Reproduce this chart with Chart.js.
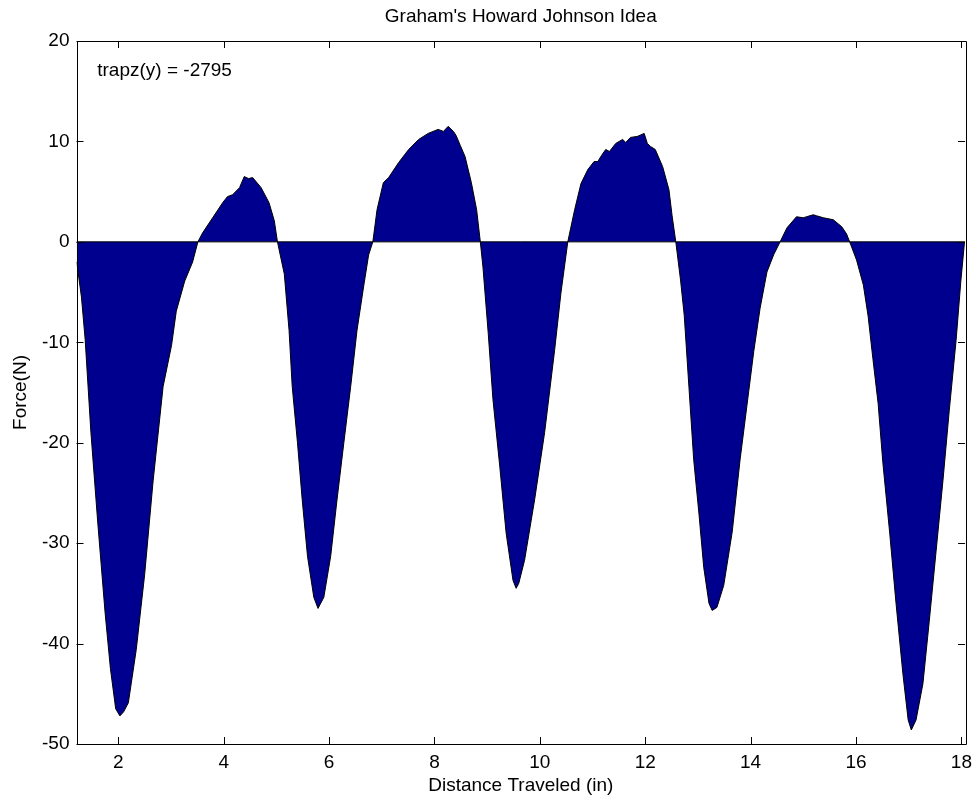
<!DOCTYPE html>
<html>
<head>
<meta charset="utf-8">
<script src="https://cdn.jsdelivr.net/npm/chart.js@4.4.1/dist/chart.umd.min.js"></script>
<style>
  html, body { margin: 0; padding: 0; background: #fff; }
  #wrap { width: 979px; height: 801px; }
</style>
</head>
<body>
<div id="wrap"><canvas id="plot"></canvas></div>
<script>
// distance traveled (in)
const distance = [
  1.21, 1.30, 1.37, 1.48, 1.61, 1.75, 1.85, 1.95, 2.03, 2.10,
  2.19, 2.34, 2.50, 2.66, 2.85, 3.01, 3.10, 3.26, 3.41, 3.51,
  3.60, 3.79, 3.98, 4.07, 4.17, 4.30, 4.39, 4.47, 4.55, 4.71,
  4.86, 4.96, 5.02, 5.15, 5.24, 5.30, 5.40, 5.49, 5.59, 5.71,
  5.79, 5.90, 6.03, 6.15, 6.28, 6.41, 6.53, 6.66, 6.75, 6.83,
  6.91, 7.03, 7.13, 7.32, 7.51, 7.70, 7.88, 8.07, 8.17, 8.26,
  8.36, 8.41, 8.49, 8.58, 8.70, 8.80, 8.87, 8.92, 9.02, 9.11,
  9.24, 9.36, 9.49, 9.55, 9.60, 9.71, 9.90, 10.09, 10.28, 10.40,
  10.53, 10.66, 10.78, 10.91, 11.03, 11.10, 11.17, 11.25, 11.32, 11.44,
  11.57, 11.63, 11.72, 11.85, 11.98, 12.04, 12.10, 12.19, 12.33, 12.45,
  12.51, 12.58, 12.67, 12.74, 12.83, 12.92, 13.02, 13.11, 13.21, 13.27,
  13.36, 13.49, 13.65, 13.80, 13.93, 14.06, 14.18, 14.31, 14.44, 14.56,
  14.69, 14.87, 15.00, 15.06, 15.19, 15.25, 15.38, 15.57, 15.73, 15.82,
  15.88, 16.01, 16.14, 16.23, 16.32, 16.42, 16.51, 16.64, 16.76, 16.89,
  16.99, 17.05, 17.14, 17.27, 17.39, 17.52, 17.65, 17.77, 17.90, 17.99,
  18.06
];

// force (N) at each distance
const force = [
  -2.0, -5.5, -9.7, -19, -28, -37, -42.5, -46.5, -47.2, -46.8,
  -45.9, -40.6, -33.1, -23.8, -14.4, -10.3, -6.9, -3.9, -2.0, 0,
  0.9, 2.4, 3.9, 4.5, 4.7, 5.4, 6.5, 6.3, 6.4, 5.4,
  3.9, 2.1, 0, -3.2, -8.8, -14.4, -20, -25.7, -31.3, -35.4,
  -36.5, -35.4, -31.3, -25.7, -20, -14.4, -8.8, -4.3, -1.3, 0,
  3.2, 5.9, 6.4, 7.9, 9.2, 10.2, 10.8, 11.2, 11.0, 11.5,
  11.0, 10.6, 9.6, 8.5, 5.9, 3.2, 0, -2.5, -9.1, -15.7,
  -22.4, -29, -33.7, -34.5, -34, -31.7, -25.7, -19, -10.8, -5.1,
  0, 3.2, 5.8, 7.2, 8.0, 8.0, 8.6, 9.2, 9.0, 9.8,
  10.2, 9.9, 10.4, 10.5, 10.8, 9.8, 9.5, 9.2, 7.5, 5.2,
  2.6, 0, -3.8, -7.3, -14.5, -21.7, -27.1, -32.4, -36, -36.7,
  -36.4, -34.2, -28.9, -21.7, -16.3, -10.9, -6.6, -3.0, -1.25, 0,
  1.4, 2.5, 2.4, 2.5, 2.7, 2.6, 2.4, 2.2, 1.5, 0.8,
  0, -1.8, -4.3, -7.4, -11.6, -16.1, -22, -29, -36, -43,
  -47.6, -48.6, -47.6, -44, -37.8, -30.8, -23.8, -16.8, -9.8, -3.9,
  0
];

const xRange = [1.206, 18.07];
const yRange = [-50, 20];
const xStep = 2;
const yStep = 10;

const titleText = "Graham's Howard Johnson Idea";
const xLabel = "Distance Traveled (in)";
const yLabel = "Force(N)";
const note = { x: 1.6, y: 17, text: "trapz(y) = -2795" };

const fontFam = "'Liberation Sans', Arial, Helvetica, sans-serif";
const fontSize = 19;
const fillColor = "#00008f";

// matlab style box with inward ticks on all four sides, plus the text note
const boxTicks = {
  id: "boxTicks",
  afterDatasetsDraw(chart) {
    const { ctx, chartArea: a, scales: { x, y } } = chart;
    const len = 7;
    ctx.save();
    ctx.strokeStyle = "#000";
    ctx.lineWidth = 1;
    ctx.beginPath();
    ctx.rect(Math.round(a.left) + 0.5, Math.round(a.top) + 0.5,
      Math.round(a.right - a.left), Math.round(a.bottom - a.top));
    x.ticks.forEach(t => {
      const px = Math.round(x.getPixelForValue(t.value)) + 0.5;
      ctx.moveTo(px, a.bottom); ctx.lineTo(px, a.bottom - len);
      ctx.moveTo(px, a.top); ctx.lineTo(px, a.top + len);
    });
    y.ticks.forEach(t => {
      const py = Math.round(y.getPixelForValue(t.value)) + 0.5;
      ctx.moveTo(a.left, py); ctx.lineTo(a.left + len, py);
      ctx.moveTo(a.right, py); ctx.lineTo(a.right - len, py);
    });
    ctx.stroke();

    ctx.fillStyle = "#000";
    ctx.font = fontSize + "px " + fontFam;
    ctx.textBaseline = "middle";
    ctx.textAlign = "left";
    ctx.fillText(note.text, x.getPixelForValue(note.x), y.getPixelForValue(note.y));
    ctx.restore();
  }
};

new Chart(document.getElementById("plot"), {
  type: "line",
  data: {
    datasets: [
      {
        // baseline of the area plot
        data: [{ x: xRange[0], y: 0 }, { x: xRange[1], y: 0 }],
        borderColor: "#000",
        borderWidth: 1,
        pointRadius: 0,
        fill: false
      },
      {
        data: distance.map((d, i) => ({ x: d, y: force[i] })),
        borderColor: "#000",
        borderWidth: 1,
        backgroundColor: fillColor,
        pointRadius: 0,
        tension: 0,
        fill: "origin"
      }
    ]
  },
  options: {
    responsive: true,
    maintainAspectRatio: false,
    animation: false,
    layout: { padding: { top: 5, right: 11, bottom: 0, left: 0 } },
    plugins: {
      legend: { display: false },
      tooltip: { enabled: false },
      title: {
        display: true,
        fullSize: false,
        text: titleText,
        color: "#000",
        font: { family: fontFam, size: fontSize, weight: "normal" },
        padding: { top: 0, bottom: 13.2 }
      }
    },
    scales: {
      x: {
        type: "linear",
        min: xRange[0],
        max: xRange[1],
        grid: { display: false, drawTicks: false },
        border: { display: false },
        ticks: {
          stepSize: xStep,
          includeBounds: false,
          color: "#000",
          padding: 7,
          maxRotation: 0,
          font: { family: fontFam, size: fontSize }
        },
        title: {
          display: true,
          text: xLabel,
          color: "#000",
          font: { family: fontFam, size: fontSize },
          padding: { top: 0, bottom: 4 }
        },
        afterFit(scale) { scale.height = 57; }
      },
      y: {
        type: "linear",
        min: yRange[0],
        max: yRange[1],
        grid: { display: false, drawTicks: false },
        border: { display: false },
        ticks: {
          stepSize: yStep,
          color: "#000",
          padding: 7,
          font: { family: fontFam, size: fontSize }
        },
        title: {
          display: true,
          text: yLabel,
          color: "#000",
          font: { family: fontFam, size: fontSize },
          padding: { top: 9, bottom: 0 }
        },
        afterFit(scale) { scale.width = 76.5; }
      }
    }
  },
  plugins: [boxTicks]
});
</script>
</body>
</html>
